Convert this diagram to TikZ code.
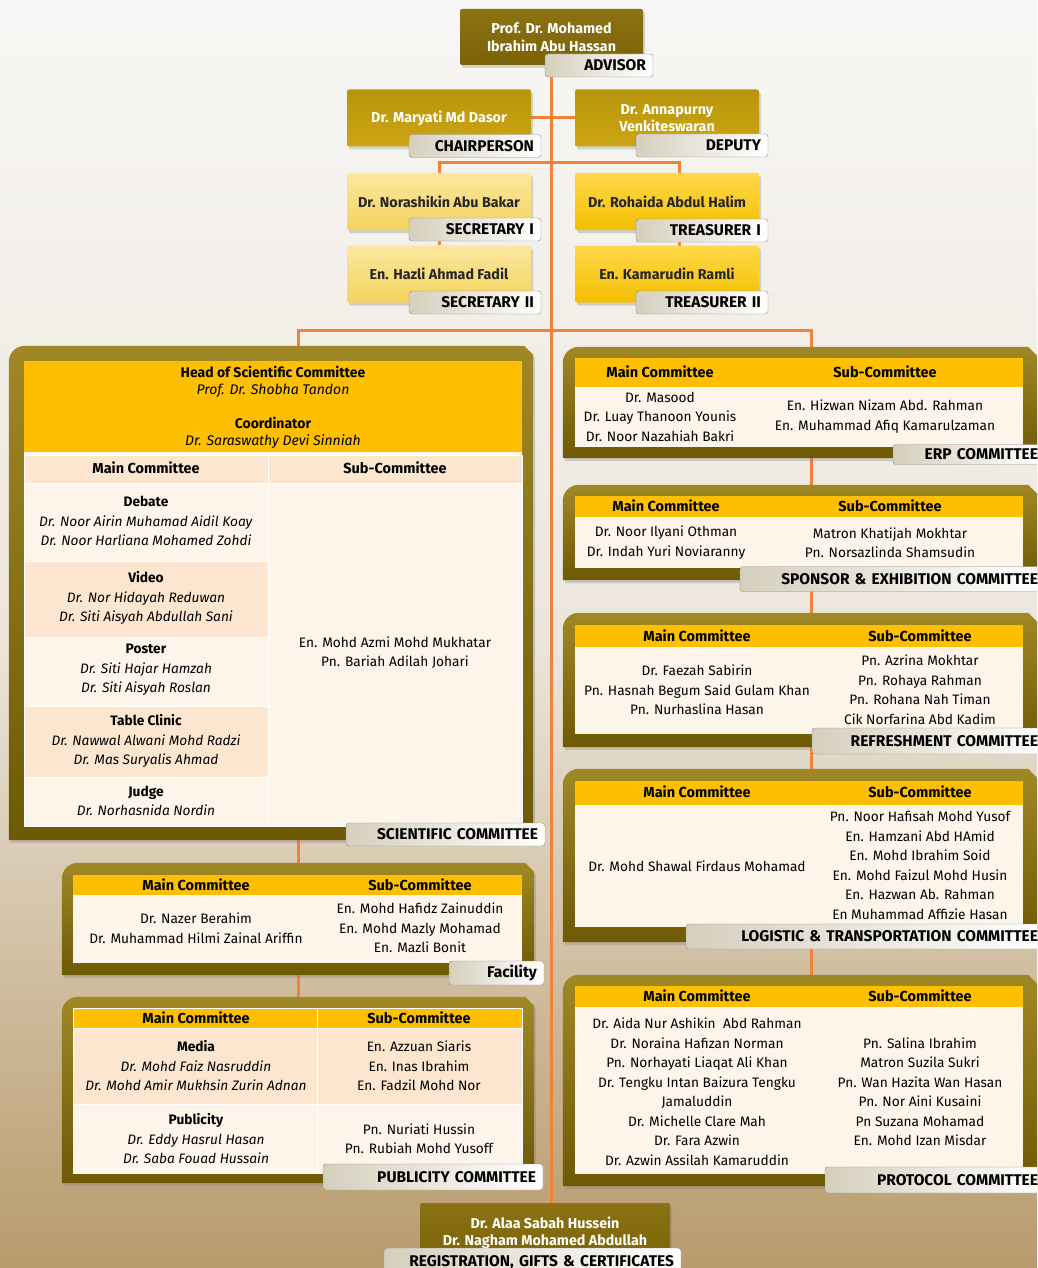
\documentclass[tikz,border=0pt]{standalone}
\usepackage{fontspec}
\setmainfont{Fira Sans}
\usetikzlibrary{shadows}

\definecolor{wire}{HTML}{F2823A}
\definecolor{gold}{HTML}{FDBF00}
\definecolor{cream}{HTML}{FDF4EA}
\definecolor{peach}{HTML}{FCE6CF}
\definecolor{olivehi}{HTML}{A08826}
\definecolor{olivelo}{HTML}{6E5905}
\definecolor{tagleft}{HTML}{D5CFBD}
\definecolor{tagline}{HTML}{8E8E8E}
\definecolor{bgtop}{HTML}{F8F7F5}
\definecolor{bgmid}{HTML}{ECE6DC}
\definecolor{bgbot}{HTML}{B89B6C}
\definecolor{advtop}{HTML}{8C7213}
\definecolor{advbot}{HTML}{7A6206}
\definecolor{chtop}{HTML}{B8950C}
\definecolor{chbot}{HTML}{CCA512}
\definecolor{setop}{HTML}{FBE7A0}
\definecolor{sebot}{HTML}{F4D35C}
\definecolor{trtop}{HTML}{FFD84A}
\definecolor{trbot}{HTML}{F3BF00}

\pgfdeclarelayer{back}
\pgfdeclarelayer{wires}
\pgfsetlayers{back,wires,main}

\begin{document}
\begin{tikzpicture}[x=1pt,y=-1pt,
	wire/.style={draw=wire,line width=3pt},
	frame/.style={inner sep=0pt},
	framefill/.style={top color=olivehi,bottom color=olivelo,drop shadow={opacity=.3,shadow xshift=2pt,shadow yshift=-3pt}},
	topbox/.style={minimum width=184,minimum height=57,inner sep=0pt,align=center,rounded corners=2pt,
		font=\bfseries\fontsize{14.3}{17.5}\selectfont,drop shadow={opacity=.3,shadow xshift=2pt,shadow yshift=-3pt}},
	darkbox/.style={topbox,top color=advtop,bottom color=advbot,text=white},
	goldbox/.style={topbox,top color=chtop,bottom color=chbot,text=white},
	palebox/.style={topbox,top color=setop,bottom color=sebot,text=black!85},
	brightbox/.style={topbox,top color=trtop,bottom color=trbot,text=black!85},
	tag/.style={draw=tagline,left color=tagleft,right color=white,rounded corners=3pt,inner xsep=7pt,inner ysep=0pt,
		minimum height=23,align=right,font=\bfseries\fontsize{15.5}{16}\selectfont},
	head/.style={inner sep=0pt,font=\bfseries\fontsize{14.5}{16}\selectfont},
	names/.style={inner sep=0pt,align=center,font=\fontsize{13.7}{19.5}\selectfont}]

	\useasboundingbox (0,0) rectangle (1037,1268);
	\clip (0,0) rectangle (1037,1268);
	\begin{pgfonlayer}{back}
		\shade[top color=bgtop,bottom color=bgbot,middle color=bgmid] (0,0) rectangle (1037,1268);
	\end{pgfonlayer}

	\node[darkbox,minimum width=183,minimum height=56] (adv) at (551.5,37) {Prof. Dr. Mohamed\\Ibrahim Abu Hassan};
	\node[tag,text width=94] (advtag) at (599,65.5) {ADVISOR};
	\node[goldbox] (chair) at (439,118) {Dr. Maryati Md Dasor};
	\node[tag,text width=118] (chairtag) at (475,146) {CHAIRPERSON};
	\node[goldbox] (dep) at (667,118) {Dr. Annapurny\\Venkiteswaran};
	\node[tag,text width=118] (deptag) at (702,145.5) {DEPUTY};
	\node[palebox] (sec1) at (439,201.5) {Dr. Norashikin Abu Bakar};
	\node[tag,text width=118] (sec1tag) at (475,229.5) {SECRETARY I};
	\node[brightbox] (tre1) at (667,201.5) {Dr. Rohaida Abdul Halim};
	\node[tag,text width=118] (tre1tag) at (702,230.5) {TREASURER I};
	\node[palebox] (sec2) at (439,274) {En. Hazli Ahmad Fadil};
	\node[tag,text width=118] (sec2tag) at (475,302.5) {SECRETARY II};
	\node[brightbox] (tre2) at (667,274) {En. Kamarudin Ramli};
	\node[tag,text width=118] (tre2tag) at (702,302.5) {TREASURER II};

	\node[frame,minimum width=524,minimum height=494] (sci) at (271,593) {};
	\node[frame,minimum width=472,minimum height=112] (fac) at (298,919) {};
	\node[frame,minimum width=472,minimum height=186] (pub) at (298,1090) {};
	\node[frame,minimum width=474,minimum height=111] (erp) at (800,402.5) {};
	\node[frame,minimum width=474,minimum height=95] (spo) at (800,532.5) {};
	\node[frame,minimum width=474,minimum height=134] (refresh) at (800,680) {};
	\node[frame,minimum width=474,minimum height=173] (logi) at (800,855.5) {};
	\node[frame,minimum width=474,minimum height=211] (proto) at (800,1080.5) {};
	\foreach \f in {sci,fac,pub,erp,spo,refresh,logi,proto}
		\shade[framefill] (\f.south west) -- ([yshift=-16pt]\f.north west) arc[start angle=180,end angle=90,radius=16pt]
			-- ([xshift=-9pt]\f.north east) -- ([yshift=-9pt]\f.north east) -- (\f.south east) -- cycle;

	\node[darkbox,minimum width=250,minimum height=60] (reg) at (545,1233) {Dr. Alaa Sabah Hussein\\Dr. Nagham Mohamed Abdullah};
	\node[tag,text width=283,minimum height=28] (regtag) at (532.5,1262) {REGISTRATION, GIFTS \& CERTIFICATES};

	\coordinate (bar1) at (553,163);
	\coordinate (bar2) at (553,330);
	\begin{pgfonlayer}{wires}
		\draw[wire] (adv.south) -- (adv.south |- reg.north);
		\draw[wire] (chair.east) -- (dep.west);
		\draw[wire] (sec1.north) |- (bar1) -| ([xshift=12pt]tre1.north);
		\draw[wire] (sec1) -- (sec2);
		\draw[wire] ([xshift=12pt]tre1.center) -- ([xshift=12pt]tre2.center);
		\draw[wire] (fac.north |- sci.north) |- (bar2) -| ([xshift=11pt]erp.north);
		\draw[wire] (fac.north |- sci.south) -- (fac.north);
		\draw[wire] (fac.south) -- (pub.north);
		\foreach \a/\b in {erp/spo,spo/refresh,refresh/logi,logi/proto}
			\draw[wire] ([xshift=11pt]\a.south) -- ([xshift=11pt]\b.north);
	\end{pgfonlayer}

	% scientific committee
	\fill[cream] (24,361) rectangle (522,826);
	\fill[gold] (24,361) rectangle (522,452);
	\foreach \ya/\yb/\col in {455/483/peach,483/561/cream,561/637/peach,637/706/cream,706/777/peach,777/826/cream}
		\filldraw[fill=\col,draw=white] (24,\ya) rectangle (268,\yb);
	\filldraw[fill=peach,draw=white] (268,455) rectangle (522,483);
	\filldraw[fill=cream,draw=white] (268,483) rectangle (522,826);
	\node[names,font=\fontsize{14}{17}\selectfont] (scihead) at (273,407) {\textbf{Head of Scientific Committee}\\\textit{Prof. Dr. Shobha Tandon}\\[17pt]\textbf{Coordinator}\\\textit{Dr. Saraswathy Devi Sinniah}};
	\node[head] (scimh) at (146,468) {Main Committee};
	\node[head] (scish) at (395,468) {Sub-Committee};
	\node[names] (debate) at (146,521) {\textbf{Debate}\\\textit{Dr. Noor Airin Muhamad Aidil Koay}\\\textit{Dr. Noor Harliana Mohamed Zohdi}};
	\node[names] (video) at (146,598) {\textbf{Video}\\\textit{Dr. Nor Hidayah Reduwan}\\\textit{Dr. Siti Aisyah Abdullah Sani}};
	\node[names] (poster) at (146,670) {\textbf{Poster}\\\textit{Dr. Siti Hajar Hamzah}\\\textit{Dr. Siti Aisyah Roslan}};
	\node[names] (clinic) at (146,741) {\textbf{Table Clinic}\\\textit{Dr. Nawwal Alwani Mohd Radzi}\\\textit{Dr. Mas Suryalis Ahmad}};
	\node[names] (judge) at (146,801) {\textbf{Judge}\\\textit{Dr. Norhasnida Nordin}};
	\node[names] (scisub) at (395,652.5) {En. Mohd Azmi Mohd Mukhatar\\Pn. Bariah Adilah Johari};
	\node[tag,text width=185] (scitag) at (445.5,834.5) {SCIENTIFIC COMMITTEE};

	% facility
	\fill[cream] (73,875) rectangle (522,963);
	\fill[gold] (73,875) rectangle (522,895);
	\node[head] (facmh) at (196,885) {Main Committee};
	\node[head] (facsh) at (420,885) {Sub-Committee};
	\node[names] (facmain) at (196,928) {Dr. Nazer Berahim\\Dr. Muhammad Hilmi Zainal Ariffin};
	\node[names] (facsub) at (420,928) {En. Mohd Hafidz Zainuddin\\En. Mohd Mazly Mohamad\\En. Mazli Bonit};
	\node[tag,text width=81,minimum height=24] (factag) at (496.5,973) {Facility};

	% publicity
	\fill[cream] (73,1008) rectangle (522,1173);
	\filldraw[fill=gold,draw=white] (73,1008) rectangle (317,1028) (317,1008) rectangle (522,1028);
	\filldraw[fill=peach,draw=white] (73,1028) rectangle (317,1104) (317,1028) rectangle (522,1104);
	\filldraw[fill=cream,draw=white] (73,1104) rectangle (317,1173) (317,1104) rectangle (522,1173);
	\node[head] (pubmh) at (196,1018) {Main Committee};
	\node[head] (pubsh) at (419,1018) {Sub-Committee};
	\node[names] (media) at (196,1066) {\textbf{Media}\\\textit{Dr. Mohd Faiz Nasruddin}\\\textit{Dr. Mohd Amir Mukhsin Zurin Adnan}};
	\node[names] (mediasub) at (419,1066) {En. Azzuan Siaris\\En. Inas Ibrahim\\En. Fadzil Mohd Nor};
	\node[names] (publ) at (196,1139) {\textbf{Publicity}\\\textit{Dr. Eddy Hasrul Hasan}\\\textit{Dr. Saba Fouad Hussain}};
	\node[names] (publsub) at (419,1138.5) {Pn. Nuriati Hussin\\Pn. Rubiah Mohd Yusoff};
	\node[tag,text width=206,minimum height=26] (pubtag) at (433,1177) {PUBLICITY COMMITTEE};

	% erp
	\fill[cream] (575,358) rectangle (1023,447);
	\fill[gold] (575,358) rectangle (1023,387);
	\node[head] (erpmh) at (660,372) {Main Committee};
	\node[head] (erpsh) at (885,372) {Sub-Committee};
	\node[names] (erpmain) at (660,416.5) {Dr. Masood\\Dr. Luay Thanoon Younis\\Dr. Noor Nazahiah Bakri};
	\node[names] (erpsub) at (885,416.5) {En. Hizwan Nizam Abd. Rahman\\En. Muhammad Afiq Kamarulzaman};
	\node[tag,text width=138,minimum height=20] (erptag) at (969,454.5) {ERP COMMITTEE};

	% sponsor
	\fill[cream] (575,496) rectangle (1023,568);
	\fill[gold] (575,496) rectangle (1023,517);
	\node[head] (spomh) at (666,506) {Main Committee};
	\node[head] (sposh) at (890,506) {Sub-Committee};
	\node[names] (spomain) at (666,542.5) {Dr. Noor Ilyani Othman\\Dr. Indah Yuri Noviaranny};
	\node[names] (sposub) at (890,542.5) {Matron Khatijah Mokhtar\\Pn. Norsazlinda Shamsudin};
	\node[tag,text width=291,minimum height=25] (spotag) at (892.5,579) {SPONSOR \& EXHIBITION COMMITTEE};

	% refreshment
	\fill[cream] (575,625) rectangle (1023,734);
	\fill[gold] (575,625) rectangle (1023,647);
	\node[head] (refmh) at (697,636) {Main Committee};
	\node[head] (refsh) at (920,636) {Sub-Committee};
	\node[names] (refmain) at (697,690) {Dr. Faezah Sabirin\\Pn. Hasnah Begum Said Gulam Khan\\Pn. Nurhaslina Hasan};
	\node[names] (refsub) at (920,689.5) {Pn. Azrina Mokhtar\\Pn. Rohaya Rahman\\Pn. Rohana Nah Timan\\Cik Norfarina Abd Kadim};
	\node[tag,text width=219,minimum height=26] (reftag) at (928.5,741) {REFRESHMENT COMMITTEE};

	% logistic
	\fill[cream] (575,781) rectangle (1023,927);
	\fill[gold] (575,781) rectangle (1023,805);
	\node[head] (logmh) at (697,792) {Main Committee};
	\node[head] (logsh) at (920,792) {Sub-Committee};
	\node[names] (logmain) at (697,866) {Dr. Mohd Shawal Firdaus Mohamad};
	\node[names] (logsub) at (920,865.5) {Pn. Noor Hafisah Mohd Yusof\\En. Hamzani Abd HAmid\\En. Mohd Ibrahim Soid\\En. Mohd Faizul Mohd Husin\\En. Hazwan Ab. Rahman\\En Muhammad Affizie Hasan};
	\node[tag,text width=345,minimum height=25] (logtag) at (865.5,936.5) {LOGISTIC \& TRANSPORTATION COMMITTEE};

	% protocol
	\fill[cream] (575,986) rectangle (1023,1174);
	\fill[gold] (575,986) rectangle (1023,1007);
	\node[head] (promh) at (697,996) {Main Committee};
	\node[head] (prosh) at (920,996) {Sub-Committee};
	\node[names] (promain) at (697,1091.5) {Dr. Aida Nur Ashikin\ \ Abd Rahman\\Dr. Noraina Hafizan Norman\\Pn. Norhayati Liaqat Ali Khan\\Dr. Tengku Intan Baizura Tengku\\Jamaluddin\\Dr. Michelle Clare Mah\\Dr. Fara Azwin\\Dr. Azwin Assilah Kamaruddin};
	\node[names] (prosub) at (920,1091.5) {Pn. Salina Ibrahim\\Matron Suzila Sukri\\Pn. Wan Hazita Wan Hasan\\Pn. Nor Aini Kusaini\\Pn Suzana Mohamad\\En. Mohd Izan Misdar};
	\node[tag,text width=206,minimum height=26] (protag) at (935,1180) {PROTOCOL COMMITTEE};
\end{tikzpicture}
\end{document}
